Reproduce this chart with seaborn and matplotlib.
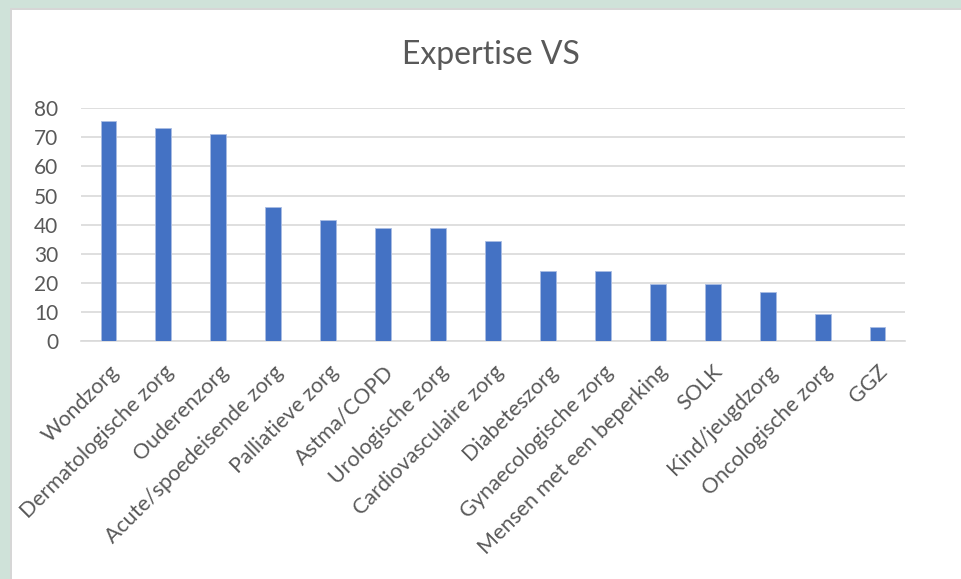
import matplotlib
matplotlib.use("Agg")
import matplotlib.pyplot as plt
import seaborn as sns
import pandas as pd
from matplotlib.patches import Rectangle
from matplotlib.transforms import ScaledTranslation

categories = ["Wondzorg", "Dermatologische zorg", "Ouderenzorg",
              "Acute/spoedeisende zorg", "Palliatieve zorg", "Astma/COPD",
              "Urologische zorg", "Cardiovasculaire zorg", "Diabeteszorg",
              "Gynaecologische zorg", "Mensen met een beperking", "SOLK",
              "Kind/jeugdzorg", "Oncologische zorg", "GGZ"]
values = [75.8, 73.1, 71.2, 46.2, 41.6, 38.9, 38.9, 34.3, 24.1, 24.1,
          19.6, 19.6, 16.8, 9.4, 4.8]
yticks = [0, 10, 20, 30, 40, 50, 60, 70, 80]
title = "Expertise VS"

df = pd.DataFrame({"cat": categories, "val": values})

sns.set_theme(style="white")
plt.rcParams["font.family"] = ["Lato", "DejaVu Sans"]

W, H = 962, 579
fig = plt.figure(figsize=(W / 100, H / 100), dpi=100)
fig.patch.set_facecolor("#CFE2D9")

# background axes for the gray border and white chart area
bg = fig.add_axes([0, 0, 1, 1], zorder=0)
bg.set_xlim(0, W)
bg.set_ylim(H, 0)
bg.axis("off")
bg.add_patch(Rectangle((10, 8), W, H, facecolor="#D6D6D6", edgecolor="none"))
bg.add_patch(Rectangle((12, 10), W, H, facecolor="white", edgecolor="none"))

left, right = 81 / W, 905 / W
bottom, top = 1 - 341 / H, 1 - 108.3 / H
ax = fig.add_axes([left, bottom, right - left, top - bottom], zorder=2)
ax.set_facecolor("none")

sns.barplot(data=df, x="cat", y="val", color="#4472C4", width=0.29,
            saturation=1, edgecolor="#A9BCE3", linewidth=0.6, ax=ax, zorder=3)

ax.set_ylim(0, 80)
ax.set_xlim(-0.5, len(categories) - 0.5)
ax.set_yticks(yticks)
ax.set_yticklabels([str(t) for t in yticks], fontsize=15, color="#595959")
ax.yaxis.grid(True, color="#D9D9D9", linewidth=1.2, zorder=0)
ax.set_axisbelow(True)
for s in ["top", "right", "left"]:
    ax.spines[s].set_visible(False)
ax.spines["bottom"].set_color("#D9D9D9")
ax.spines["bottom"].set_linewidth(1.2)
ax.tick_params(axis="y", length=0, pad=16.5)
ax.tick_params(axis="x", length=0, pad=20)
ax.set_xlabel("")
ax.set_ylabel("")
ax.set_xticks(range(len(categories)))
ax.set_xticklabels(categories, rotation=45, ha="right", va="center",
                   rotation_mode="anchor", fontsize=15.5, color="#595959")
for lbl in ax.get_xticklabels():
    lbl.set_transform(lbl.get_transform() + ScaledTranslation(7 / 100, 0, fig.dpi_scale_trans))

fig.text(491 / W, 1 - 55 / H, title, ha="center", va="center",
         fontsize=23, color="#595959")

fig.savefig("out.png", dpi=100)
